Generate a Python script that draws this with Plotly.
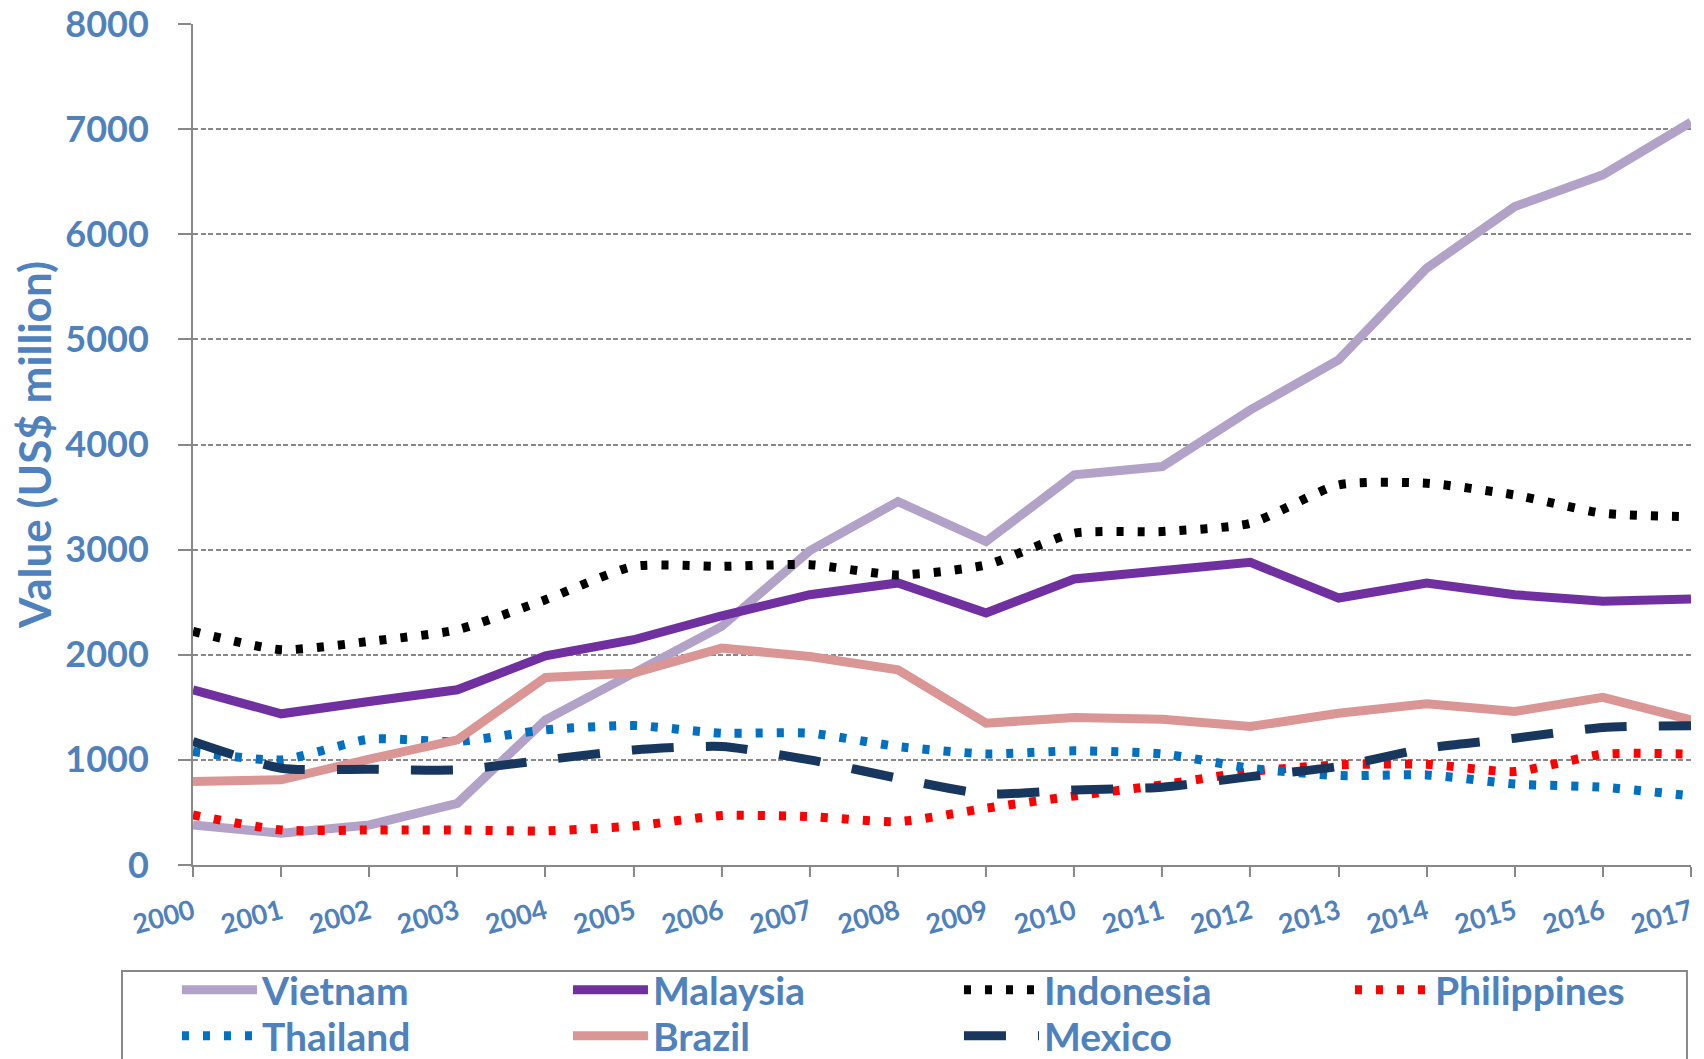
import plotly.graph_objects as go

years = list(range(2000, 2018))

vietnam = [381, 302, 381, 587, 1381, 1825, 2270, 2990, 3457, 3076, 3711, 3790,
           4329, 4805, 5677, 6264, 6565, 7066]
malaysia = [1667, 1438, 1556, 1667, 1990, 2143, 2371, 2571, 2683, 2397, 2721, 2794,
            2879, 2540, 2683, 2571, 2508, 2530]
indonesia = [2222, 2048, 2127, 2238, 2524, 2841, 2841, 2857, 2759, 2854, 3156, 3172,
             3251, 3616, 3632, 3520, 3346, 3314]
philippines = [476, 333, 333, 333, 324, 371, 470, 460, 413, 540, 657, 762,
               889, 952, 959, 889, 1054, 1054]
thailand = [1079, 1000, 1197, 1175, 1286, 1327, 1254, 1254, 1127, 1057, 1086, 1057,
            921, 851, 857, 771, 740, 657]
brazil = [794, 810, 1006, 1190, 1784, 1825, 2063, 1984, 1857, 1349, 1403, 1387,
          1317, 1444, 1533, 1460, 1594, 1381]
mexico = [1175, 921, 911, 905, 1000, 1095, 1127, 1000, 825, 676, 714, 740,
          841, 937, 1111, 1206, 1308, 1324]

BLUE = "#4F81BD"
GREY = "#888888"
FONT = "Lato"
DOTS = "7px,14px"

# name, values, colour, dash, shape, legend row
series = [
    ("Vietnam", vietnam, "#B3A2C7", "solid", "linear", "legend"),
    ("Malaysia", malaysia, "#7030A0", "solid", "linear", "legend"),
    ("Indonesia", indonesia, "#000000", DOTS, "spline", "legend"),
    ("Philippines", philippines, "#FF0000", DOTS, "spline", "legend"),
    ("Thailand", thailand, "#0070C0", DOTS, "spline", "legend2"),
    ("Brazil", brazil, "#D99694", "solid", "linear", "legend2"),
    ("Mexico", mexico, "#17375E", "42px,32px", "spline", "legend2"),
]

fig = go.Figure()
for name, vals, color, dash, shape, leg in series:
    fig.add_trace(go.Scatter(
        x=years, y=vals, name=name, mode="lines", legend=leg,
        line=dict(color=color, width=9, dash=dash, shape=shape, smoothing=0.6),
    ))

legend_style = dict(
    orientation="h", xanchor="left", yanchor="top",
    entrywidth=301, itemwidth=75, borderwidth=0, bgcolor="rgba(0,0,0,0)",
    font=dict(size=39, color=BLUE, family=FONT, weight="bold"),
    traceorder="normal",
)

# the page body adds an 8px offset, so the figure is 8px smaller
fig.update_layout(
    width=1696, height=1051,
    paper_bgcolor="white", plot_bgcolor="white",
    margin=dict(l=185, r=13, t=16, b=194, autoexpand=False),
    font=dict(family=FONT, color=BLUE, size=36, weight="bold"),
    showlegend=True,
    legend=dict(x=-0.0107, y=-0.1106, **legend_style),
    legend2=dict(x=-0.0107, y=-0.1653, **legend_style),
    shapes=[dict(type="rect", xref="paper", yref="paper",
                 x0=-0.0474, x1=0.9973, y0=-0.126, y1=-0.26,
                 line=dict(color=GREY, width=2), layer="below")],
    xaxis=dict(
        range=[2000, 2017], tickvals=years, tickangle=-15,
        tickfont=dict(size=27, color=BLUE, family=FONT, weight="bold"),
        showline=True, linecolor=GREY, linewidth=2,
        ticks="outside", ticklen=10, tickcolor=GREY, tickwidth=2,
        ticklabelstandoff=9, ticklabeloverflow="allow",
        showgrid=False, zeroline=False, automargin=False,
    ),
    yaxis=dict(
        range=[0, 8000], dtick=1000,
        tickfont=dict(size=36, color=BLUE, family=FONT, weight="bold"),
        title=dict(text="Value (US$ million)", font=dict(size=44, color=BLUE, family=FONT, weight="bold")),
        showline=True, linecolor=GREY, linewidth=2,
        ticks="outside", ticklen=13, tickcolor=GREY, tickwidth=2,
        ticklabelstandoff=22, ticklabeloverflow="allow",
        showgrid=True, gridcolor=GREY, gridwidth=1.5, griddash="5px,2.5px",
        zeroline=False, automargin=False,
    ),
)

fig.write_html("out.html")
